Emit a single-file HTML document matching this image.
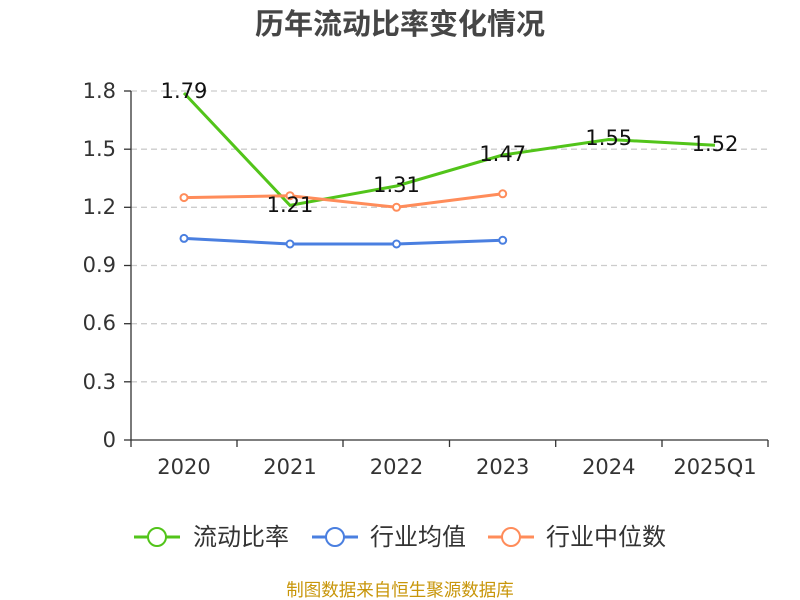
<!DOCTYPE html>
<html><head><meta charset="utf-8"><style>
body{margin:0;background:#fff;}
svg{display:block;font-family:"DejaVu Sans","Noto Sans CJK SC",sans-serif;}
</style></head><body>
<svg width="800" height="600" viewBox="0 0 800 600">
<text x="400" y="34" text-anchor="middle" font-size="29" font-weight="bold" fill="#464646" font-family="'Noto Sans CJK SC',sans-serif">历年流动比率变化情况</text>
<g stroke="#ccc" stroke-dasharray="6,4" stroke-width="1.3">
<line x1="131" x2="768" y1="91" y2="91"/><line x1="131" x2="768" y1="149.2" y2="149.2"/>
<line x1="131" x2="768" y1="207.3" y2="207.3"/><line x1="131" x2="768" y1="265.5" y2="265.5"/>
<line x1="131" x2="768" y1="323.7" y2="323.7"/><line x1="131" x2="768" y1="381.8" y2="381.8"/>
</g>
<g stroke="#333" stroke-width="1.3">
<line x1="131" x2="131" y1="91" y2="440"/><line x1="131" x2="768" y1="440" y2="440"/>
<line x1="124" x2="131" y1="91" y2="91"/><line x1="124" x2="131" y1="149.2" y2="149.2"/>
<line x1="124" x2="131" y1="207.3" y2="207.3"/><line x1="124" x2="131" y1="265.5" y2="265.5"/>
<line x1="124" x2="131" y1="323.7" y2="323.7"/><line x1="124" x2="131" y1="381.8" y2="381.8"/>
<line x1="124" x2="131" y1="440" y2="440"/>
<line x1="131" x2="131" y1="440" y2="447"/><line x1="237" x2="237" y1="440" y2="447"/>
<line x1="343" x2="343" y1="440" y2="447"/><line x1="449.5" x2="449.5" y1="440" y2="447"/>
<line x1="555.7" x2="555.7" y1="440" y2="447"/><line x1="662" x2="662" y1="440" y2="447"/>
<line x1="768" x2="768" y1="440" y2="447"/>
</g>
<g font-size="21" fill="#333" text-anchor="end">
<text x="116" y="98">1.8</text><text x="116" y="156">1.5</text><text x="116" y="214">1.2</text>
<text x="116" y="272">0.9</text><text x="116" y="330">0.6</text><text x="116" y="389">0.3</text><text x="116" y="447">0</text>
</g>
<g font-size="21" fill="#333" text-anchor="middle">
<text x="184" y="474">2020</text><text x="290" y="474">2021</text><text x="396.5" y="474">2022</text>
<text x="502.7" y="474">2023</text><text x="608.8" y="474">2024</text><text x="715" y="474">2025Q1</text>
</g>
<polyline fill="none" stroke="#52c41a" stroke-width="3" points="184,93 290,205.4 396.5,186 502.7,155 608.8,139.5 715,145.3"/>
<polyline fill="none" stroke="#4a7fe0" stroke-width="3" points="184,238.4 290,244 396.5,244 502.7,240.3"/>
<polyline fill="none" stroke="#ff8c5a" stroke-width="3" points="184,197.6 290,195.7 396.5,207.3 502.7,193.8"/>
<g fill="#fff" stroke="#4a7fe0" stroke-width="2">
<circle cx="184" cy="238.4" r="3.5"/><circle cx="290" cy="244" r="3.5"/><circle cx="396.5" cy="244" r="3.5"/><circle cx="502.7" cy="240.3" r="3.5"/>
</g>
<g fill="#fff" stroke="#ff8c5a" stroke-width="2">
<circle cx="184" cy="197.6" r="3.5"/><circle cx="290" cy="195.7" r="3.5"/><circle cx="396.5" cy="207.3" r="3.5"/><circle cx="502.7" cy="193.8" r="3.5"/>
</g>
<g font-size="21" fill="#111" text-anchor="middle">
<text x="184" y="98">1.79</text><text x="290" y="212">1.21</text><text x="396.5" y="192">1.31</text>
<text x="502.7" y="161">1.47</text><text x="608.8" y="145">1.55</text><text x="715" y="151">1.52</text>
</g>
<g font-size="24" fill="#333" font-family="'Noto Sans CJK SC',sans-serif">
<line x1="134" x2="180" y1="537" y2="537" stroke="#52c41a" stroke-width="3"/><circle cx="157" cy="537" r="9" fill="#fff" stroke="#52c41a" stroke-width="2"/>
<text x="193" y="545">流动比率</text>
<line x1="312" x2="358" y1="537" y2="537" stroke="#4a7fe0" stroke-width="3"/><circle cx="335" cy="537" r="9" fill="#fff" stroke="#4a7fe0" stroke-width="2"/>
<text x="370" y="545">行业均值</text>
<line x1="488" x2="534" y1="537" y2="537" stroke="#ff8c5a" stroke-width="3"/><circle cx="511" cy="537" r="9" fill="#fff" stroke="#ff8c5a" stroke-width="2"/>
<text x="546" y="545">行业中位数</text>
</g>
<text x="400" y="596" text-anchor="middle" font-size="17.5" fill="#c8960a" font-family="'Noto Sans CJK SC',sans-serif">制图数据来自恒生聚源数据库</text>
</svg>
</body></html>
